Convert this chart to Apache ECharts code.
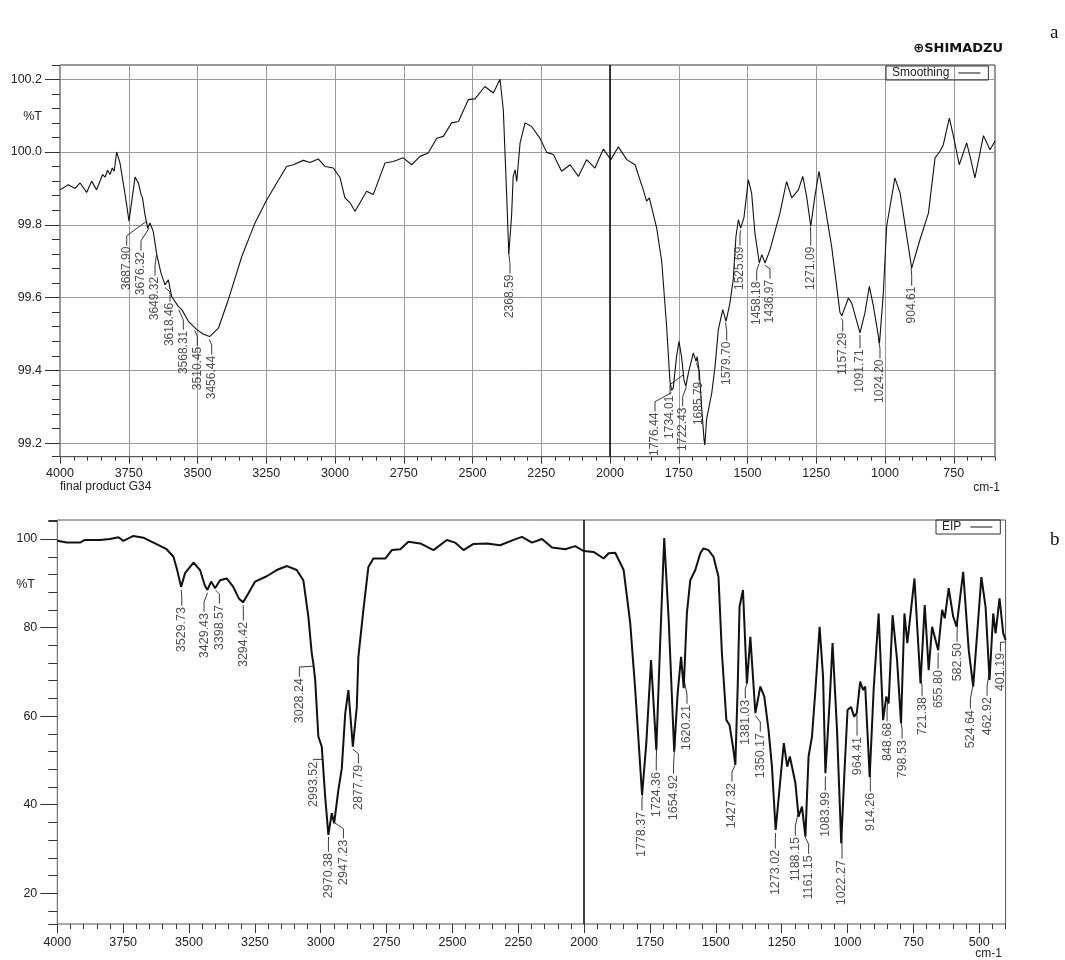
<!DOCTYPE html>
<html><head><meta charset="utf-8">
<script src="https://cdn.jsdelivr.net/npm/echarts@6/dist/echarts.min.js"></script>
<style>html,body{margin:0;padding:0;background:#fff}#c{width:1065px;height:960px}</style>
</head><body><div id="c"></div>
<script>
// ---------- DATA ----------
// (a) Smoothing spectrum: wavenumber (cm-1) and %T
const topWN = [4000,3970,3945,3927,3903,3885,3867,3855,3845,3836,3827,3818,3810,3803,3794,3782,3764,3749,3727,3715,3705,3700,3691,3681,3673,3667,3661,3648,3633,3618,3606,3594,3570,3557,3533,3503,3480,3456,3424,3388,3339,3303,3291,3248,3212,3176,3152,3115,3091,3061,3036,3006,2982,2964,2945,2927,2885,2861,2818,2788,2752,2721,2691,2661,2630,2606,2576,2551,2515,2491,2455,2424,2400,2388,2376,2368,2358,2352,2345,2339,2327,2309,2285,2255,2230,2206,2176,2145,2115,2085,2055,2024,1997,1970,1939,1909,1879,1867,1857,1830,1812,1794,1782,1776,1770,1758,1749,1740,1731,1724,1715,1709,1697,1687,1683,1675,1667,1658,1655,1649,1630,1618,1606,1590,1578,1564,1552,1542,1533,1525,1513,1497,1485,1473,1457,1448,1436,1418,1400,1382,1358,1339,1315,1299,1285,1270,1255,1240,1224,1194,1164,1157,1133,1121,1091,1073,1057,1042,1020,1006,994,964,945,903,873,842,818,800,788,766,751,730,703,688,673,642,618,600];
const topT = [99.896,99.91,99.90,99.915,99.889,99.92,99.896,99.919,99.938,99.931,99.95,99.938,99.956,99.947,100.0,99.97,99.887,99.81,99.931,99.915,99.883,99.874,99.828,99.79,99.805,99.81,99.782,99.718,99.668,99.635,99.649,99.603,99.576,99.567,99.535,99.512,99.50,99.493,99.516,99.594,99.713,99.782,99.805,99.869,99.915,99.96,99.965,99.977,99.971,99.981,99.96,99.956,99.93,99.874,99.86,99.837,99.892,99.883,99.97,99.974,99.984,99.965,99.988,99.997,100.038,100.043,100.08,100.084,100.144,100.146,100.18,100.162,100.2,100.116,99.887,99.72,99.823,99.933,99.951,99.919,100.025,100.08,100.07,100.038,99.999,99.993,99.947,99.965,99.933,99.979,99.956,100.008,99.979,100.014,99.979,99.965,99.896,99.865,99.874,99.79,99.70,99.52,99.37,99.345,99.352,99.438,99.48,99.438,99.374,99.356,99.393,99.411,99.448,99.425,99.438,99.393,99.301,99.21,99.195,99.265,99.338,99.411,99.512,99.567,99.535,99.585,99.649,99.768,99.814,99.791,99.819,99.924,99.887,99.777,99.695,99.718,99.695,99.732,99.782,99.832,99.919,99.874,99.896,99.933,99.878,99.796,99.878,99.947,99.878,99.74,99.56,99.55,99.599,99.585,99.503,99.558,99.631,99.576,99.475,99.613,99.796,99.929,99.887,99.681,99.759,99.832,99.984,100.002,100.02,100.093,100.043,99.965,100.025,99.979,99.929,100.045,100.006,100.03];

// (b) EIP spectrum
const botWN = [4000,3964,3914,3895,3838,3800,3768,3749,3711,3673,3635,3585,3559,3545,3530,3515,3483,3458,3440,3430,3416,3401,3382,3357,3332,3310,3295,3275,3249,3205,3167,3128,3091,3066,3047,3034,3028,3021,3009,2996,2983,2971,2958,2949,2933,2920,2907,2895,2878,2863,2857,2838,2819,2800,2755,2730,2698,2667,2622,2572,2521,2490,2458,2420,2369,2319,2268,2236,2198,2160,2122,2072,2034,2002,1964,1926,1907,1882,1850,1825,1806,1780,1764,1746,1726,1711,1696,1679,1658,1645,1632,1622,1610,1597,1578,1559,1547,1528,1509,1490,1477,1460,1448,1435,1426,1417,1410,1397,1382,1369,1350,1331,1316,1300,1287,1273,1242,1229,1219,1198,1186,1173,1160,1148,1135,1122,1106,1093,1084,1067,1057,1040,1024,1012,1000,987,975,965,952,941,933,916,901,882,865,853,844,829,812,797,784,773,746,723,707,692,679,656,641,631,616,599,586,561,540,523,492,476,461,447,438,423,409,400];
const botT = [99.6,99.2,99.2,99.8,99.8,100,100.4,99.6,100.7,100.3,99.2,97.7,96.0,93.0,89.2,92.3,94.7,93.0,89.5,88.5,90.4,88.9,90.7,91.1,89.2,86.5,85.7,87.7,90.4,91.6,93.0,93.9,93.0,90.7,82.5,74.2,71.9,68.2,55.4,53.1,41.8,33.2,38.1,35.8,43.3,48.2,60.6,65.9,53.1,62.1,73.4,84.0,93.7,95.6,95.6,97.5,97.7,99.4,99.0,97.5,99.8,99.2,97.5,98.9,99.0,98.6,99.8,100.5,99.2,100,98.1,97.7,98.4,97.3,97.1,95.6,96.8,96.9,93.0,81.0,65.9,42.2,53.9,72.7,52.4,77.2,100.2,81.7,52.0,65.2,73.4,66.3,83.2,90.7,93.0,96.8,97.9,97.5,96.0,91.5,74.2,59.1,58.0,53.1,49.0,66.7,84.7,88.5,67.4,77.9,60.7,66.7,64.4,56.9,48.6,34.3,53.9,48.6,50.9,44.9,37.3,39.6,32.8,50.9,55.4,65.9,80.2,68.9,47.1,64.4,76.5,56.9,31.3,47.1,61.4,62.1,59.9,60.7,67.8,65.9,66.7,46.3,65.9,83.2,59.1,64.4,62.9,82.8,72.7,58.4,83.2,76.5,91.1,67.4,85.1,70.4,80.2,74.9,84.0,82.1,88.9,82.5,80.2,92.6,74.9,66.7,91.4,84.7,68.2,83.2,78.7,86.6,78.7,77.2];

// Peak labels (cm-1)
const topPeaks = ['3687.90','3676.32','3649.32','3618.46','3568.31','3510.45','3456.44','2368.59','1776.44','1734.01','1722.43','1685.79','1579.70','1525.69','1458.18','1436.97','1271.09','1157.29','1091.71','1024.20','904.61'];
const botPeaks = ['3529.73','3429.43','3398.57','3294.42','3028.24','2993.52','2970.38','2947.23','2877.79','1778.37','1724.36','1654.92','1620.21','1427.32','1381.03','1350.17','1273.02','1188.15','1161.15','1083.99','1022.27','964.41','914.26','848.68','798.53','721.38','655.80','582.50','524.64','462.92','401.19'];

// Tick labels
const topXTicks = [4000,3750,3500,3250,3000,2750,2500,2250,2000,1750,1500,1250,1000,750];
const topYTicks = [99.2,99.4,99.6,99.8,100.0,100.2];
const botXTicks = [4000,3750,3500,3250,3000,2750,2500,2250,2000,1750,1500,1250,1000,750,500];
const botYTicks = [20,40,60,80,100];

// Axis ranges / tick steps
const topX = {min: 600, max: 4000, major: 250, minor: 50};
const topY = {min: 99.163, max: 100.239, major: 0.2, minor: 0.04};
const botX = {min: 400, max: 4000, major: 250, minor: 50};
const botY = {min: 13.07, max: 104.3, major: 20, minor: 4};

// ---------- LAYOUT (label text-top placement, in axis units) ----------
const topLabelPos = [[3757.5,99.740],[3705.5,99.726],[3654.5,99.657],[3600,99.586],[3551.6,99.509],[3500.7,99.465],[3448.4,99.440],[2363.6,99.663],[1836.4,99.284],[1781.8,99.331],[1735.6,99.298],[1676.4,99.369],[1575.6,99.479],[1527.3,99.740],[1466.5,99.644],[1418.2,99.649],[1270.2,99.740],[1153.8,99.504],[1090.9,99.458],[1018.2,99.430],[902.9,99.630]];
const botLabelPos = [[3527.5,84.65],[3442.8,83.3],[3384.7,85.1],[3293.6,81.3],[3080.9,68.6],[3027.7,49.7],[2970.8,29.1],[2913.8,32.1],[2856.8,49.0],[1780.5,38.4],[1726.2,47.4],[1660.5,46.7],[1609.6,62.5],[1438.7,44.9],[1388.2,63.7],[1331.2,56.2],[1274.2,29.8],[1198.2,32.7],[1147.8,28.6],[1084.4,42.9],[1020.9,27.5],[963.9,55.3],[913.4,42.7],[850.0,58.5],[793.0,54.6],[717.1,64.3],[656.3,70.4],[584.2,76.5],[533.6,61.4],[470.3,64.3],[419.6,74.3]];

// ---------- HELPERS ----------
function interp(wn, t, w) {
  for (let i = 0; i < wn.length - 1; i++) {
    if (w <= wn[i] && w >= wn[i+1]) {
      const f = (wn[i] - w) / (wn[i] - wn[i+1]);
      return t[i] + f * (t[i+1] - t[i]);
    }
  }
  return t[t.length - 1];
}
function leaders(peaks, pos, wn, t, dash, gap, tiny) {
  return peaks.map((p, i) => {
    const w = parseFloat(p);
    const tv = interp(wn, t, w);
    const ax = pos[i][0], at = pos[i][1];
    let mid = at + dash;
    if (mid > tv - gap) mid = tv - gap;
    return {coords: [[w, tv - gap], [ax, mid], [ax, at + tiny]]};
  });
}
const font = 'Liberation Sans, Arial, Helvetica, sans-serif';
const txt = {color: '#222', fontSize: 12.5, fontFamily: font};

function xAxes(grid, r, ticks, majorLen, minorLen, margin, split) {
  return [
    {gridIndex: grid, type: 'value', position: 'bottom', inverse: true, min: r.min, max: r.max,
     minInterval: r.major, maxInterval: r.major,
     axisLine: {show: false, onZero: false},
     axisTick: {show: true, length: majorLen, customValues: ticks, lineStyle: {color: '#333', width: 1}},
     axisLabel: Object.assign({margin: margin, customValues: ticks,
        formatter: v => (Math.abs(v % r.major) < 1e-6 ? String(Math.round(v)) : '')}, txt),
     splitLine: {show: split, lineStyle: {color: '#9a9a9a', width: 1}}},
    {gridIndex: grid, type: 'value', position: 'bottom', inverse: true, min: r.min, max: r.max,
     minInterval: r.minor, maxInterval: r.minor,
     axisLine: {show: false, onZero: false},
     axisTick: {show: true, length: minorLen, lineStyle: {color: '#333', width: 1}},
     axisLabel: {show: false}, splitLine: {show: false}}
  ];
}
function yAxes(grid, r, ticks, majorLen, minorLen, margin, split, fmt) {
  return [
    {gridIndex: grid, type: 'value', position: 'left', min: r.min, max: r.max,
     minInterval: r.major, maxInterval: r.major,
     axisLine: {show: false, onZero: false},
     axisTick: {show: true, length: majorLen, customValues: ticks, lineStyle: {color: '#333', width: 1}},
     axisLabel: Object.assign({margin: margin, customValues: ticks, formatter: v => {
        const k = v / r.major; return Math.abs(k - Math.round(k)) < 1e-4 ? fmt(v) : ''; }}, txt),
     splitLine: {show: split, lineStyle: {color: '#9a9a9a', width: 1}}},
    {gridIndex: grid, type: 'value', position: 'left', min: r.min, max: r.max,
     minInterval: r.minor, maxInterval: r.minor,
     axisLine: {show: false, onZero: false},
     axisTick: {show: true, length: minorLen, lineStyle: {color: '#333', width: 1}},
     axisLabel: {show: false}, splitLine: {show: false}}
  ];
}
const mark2000 = {silent: true, symbol: ['none', 'none'], label: {show: false},
  lineStyle: {color: '#111', width: 1.6, type: 'solid'}, data: [{xAxis: 2000}]};
function labelSeries(peaks, pos, xi, yi, fs) {
  return {type: 'scatter', xAxisIndex: xi, yAxisIndex: yi, symbolSize: 1, silent: true,
    itemStyle: {color: 'transparent'},
    data: pos.map((p, i) => ({name: peaks[i], value: p})),
    label: {show: true, formatter: '{b}', position: 'inside', rotate: 90, align: 'right', verticalAlign: 'middle',
      color: '#222', fontSize: fs, fontFamily: font}, z: 5};
}

const chart = echarts.init(document.getElementById('c'));
chart.setOption({
  animation: false,
  backgroundColor: '#fff',
  textStyle: {fontFamily: font},
  grid: [
    {left: 60, top: 65, width: 935, height: 391.7, show: true, borderColor: '#333', borderWidth: 1, backgroundColor: 'transparent', containLabel: false, outerBoundsMode: 'none'},
    {left: 57.3, top: 520, width: 948.3, height: 404, show: true, borderColor: '#555', borderWidth: 1, backgroundColor: 'transparent', containLabel: false, outerBoundsMode: 'none'}
  ],
  xAxis: [].concat(xAxes(0, topX, topXTicks, 7, 4, 10, true), xAxes(1, botX, botXTicks, 9, 5, 12, false)),
  yAxis: [].concat(yAxes(0, topY, topYTicks, 15, 8, 18, true, v => v.toFixed(1)), yAxes(1, botY, botYTicks, 17, 9, 20, false, v => String(Math.round(v)))),
  legend: [
    {data: [{name: 'Smoothing', icon: 'rect'}], left: 886, top: 66, align: 'right', orient: 'horizontal',
     itemWidth: 22, itemHeight: 1, itemGap: 4, padding: [1, 8, 1, 6], borderColor: '#333', borderWidth: 1,
     selectedMode: false, textStyle: {fontSize: 12, color: '#222', fontFamily: font, padding: [0, 4, 0, 0]}},
    {data: [{name: 'EIP', icon: 'rect'}], left: 936, top: 520, align: 'right', orient: 'horizontal',
     itemWidth: 22, itemHeight: 1, itemGap: 4, padding: [1, 8, 1, 6], borderColor: '#333', borderWidth: 1,
     selectedMode: false, textStyle: {fontSize: 12, color: '#222', fontFamily: font, padding: [0, 4, 0, 0]}}
  ],
  series: [
    {name: 'Smoothing', type: 'line', xAxisIndex: 0, yAxisIndex: 0, showSymbol: false, symbol: 'none',
     data: topWN.map((w, i) => [w, topT[i]]), itemStyle: {color: '#111'}, lineStyle: {color: '#111', width: 1.1},
     markLine: mark2000, z: 3},
    {name: 'EIP', type: 'line', xAxisIndex: 2, yAxisIndex: 2, showSymbol: false, symbol: 'none',
     data: botWN.map((w, i) => [w, botT[i]]), itemStyle: {color: '#111'}, lineStyle: {color: '#111', width: 2},
     markLine: mark2000, z: 3},
    labelSeries(topPeaks, topLabelPos, 0, 0, 12),
    labelSeries(botPeaks, botLabelPos, 2, 2, 12.5),
    {type: 'lines', coordinateSystem: 'cartesian2d', xAxisIndex: 0, yAxisIndex: 0, polyline: true, silent: true,
     lineStyle: {color: '#222', width: 0.9, opacity: 1}, data: leaders(topPeaks, topLabelPos, topWN, topT, 0.03, 0.008, 0.003)},
    {type: 'lines', coordinateSystem: 'cartesian2d', xAxisIndex: 2, yAxisIndex: 2, polyline: true, silent: true,
     lineStyle: {color: '#222', width: 0.9, opacity: 1}, data: leaders(botPeaks, botLabelPos, botWN, botT, 2.5, 0.7, 0.3)}
  ],
  graphic: [
    {type: 'text', x: 32.5, y: 116.7, style: {text: '%T', fontSize: 12.5, fontFamily: font, fill: '#222', align: 'center', verticalAlign: 'middle'}},
    {type: 'text', x: 25.5, y: 584.3, style: {text: '%T', fontSize: 12.5, fontFamily: font, fill: '#222', align: 'center', verticalAlign: 'middle'}},
    {type: 'text', x: 60, y: 487, style: {text: 'final product G34', fontSize: 12, fontFamily: font, fill: '#222', align: 'left', verticalAlign: 'middle'}},
    {type: 'text', x: 1000, y: 488, style: {text: 'cm-1', fontSize: 12, fontFamily: font, fill: '#222', align: 'right', verticalAlign: 'middle'}},
    {type: 'text', x: 1002, y: 954, style: {text: 'cm-1', fontSize: 12, fontFamily: font, fill: '#222', align: 'right', verticalAlign: 'middle'}},
    {type: 'text', x: 1003, y: 48.5, style: {text: '\u2295SHIMADZU', fontSize: 13, fontWeight: 'bold', fontFamily: 'DejaVu Sans, sans-serif', fill: '#111', align: 'right', verticalAlign: 'middle'}},
    {type: 'text', x: 1050, y: 33, style: {text: 'a', fontSize: 19, fontFamily: 'Liberation Serif, serif', fill: '#111', align: 'left', verticalAlign: 'middle'}},
    {type: 'text', x: 1050, y: 540, style: {text: 'b', fontSize: 19, fontFamily: 'Liberation Serif, serif', fill: '#111', align: 'left', verticalAlign: 'middle'}}
  ]
});
</script></body></html>
